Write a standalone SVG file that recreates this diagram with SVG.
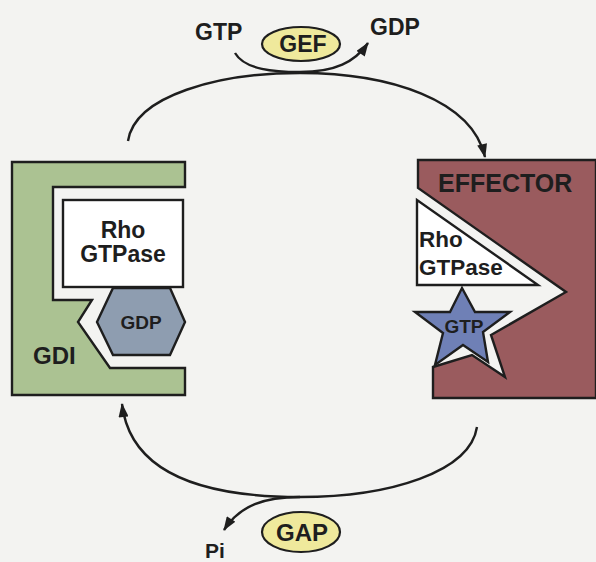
<svg xmlns="http://www.w3.org/2000/svg" width="596" height="562" viewBox="0 0 596 562">
<defs>
<style>
.t{font-family:"Liberation Sans",Arial,sans-serif;font-weight:bold;fill:#1e1e1e}
.ln{fill:none;stroke:#1e1e1e;stroke-width:2.4}
.sh{stroke:#1e1e1e;stroke-width:2.4;stroke-linejoin:miter}
</style>
<marker id="ah" viewBox="0 0 14 10" refX="13" refY="5" markerWidth="15" markerHeight="10" markerUnits="userSpaceOnUse" orient="auto">
<path d="M0,0 L14,5 L0,10 Z" fill="#1e1e1e"/>
</marker>
</defs>
<rect width="596" height="562" fill="#f3f3f1"/>
<g id="connectors">
<path class="ln" d="M128,141 C135,95 220,73 300,73 C390,73 472,100 485,157" marker-end="url(#ah)"/>
<path class="ln" d="M235,53 C245,70 275,72 300,72 C335,72 355,62 368,43" marker-end="url(#ah)"/>
<path class="ln" d="M477,427 C470,472 390,497 300,497 C200,497 130,472 122,404" marker-end="url(#ah)"/>
<path class="ln" d="M300,497 C265,497 240,505 224,530" marker-end="url(#ah)"/>
</g>
<g id="gef">
<ellipse cx="301" cy="44" rx="39" ry="17" fill="#efe99c" stroke="#1e1e1e" stroke-width="2.2"/>
<text class="t" x="303" y="52" font-size="23" text-anchor="middle">GEF</text>
</g>
<g id="gtp-top"><text class="t" x="195" y="40" font-size="23">GTP</text></g>
<g id="gdp-top"><text class="t" x="370" y="35" font-size="23">GDP</text></g>
<g id="gap">
<ellipse cx="301" cy="532" rx="39" ry="20" fill="#efe99c" stroke="#1e1e1e" stroke-width="2.2"/>
<text class="t" x="302" y="541" font-size="24" text-anchor="middle">GAP</text>
</g>
<g id="pi"><text class="t" x="205" y="558" font-size="21">Pi</text></g>
<g id="gdi">
<path class="sh" fill="#abc292" d="M12,162 H185 V187 H53 V300 H92 L78,322 L110,368 H185 V395 H12 Z"/>
<text class="t" x="33" y="364" font-size="24">GDI</text>
</g>
<g id="rho-gdi">
<rect class="sh" x="63" y="200" width="120" height="87" fill="#ffffff"/>
<text class="t" x="123" y="238" font-size="23" text-anchor="middle">Rho</text>
<text class="t" x="123" y="262" font-size="23" text-anchor="middle">GTPase</text>
</g>
<g id="gdp-hex">
<polygon class="sh" fill="#8e9db0" points="97,322 113,288 170,288 185,322 170,355 113,355"/>
<text class="t" x="141" y="329" font-size="19" text-anchor="middle">GDP</text>
</g>
<g id="effector">
<path class="sh" fill="#9a5b5e" d="M418,160 H596 V398 H433 V367 L472,355 L505,377 L491,335 L566,292 L418,188 Z"/>
<text class="t" x="438" y="192" font-size="25">EFFECTOR</text>
</g>
<g id="rho-eff">
<polygon class="sh" fill="#ffffff" points="417,200 417,285 538,285"/>
<text class="t" x="419" y="247" font-size="22.5">Rho</text>
<text class="t" x="419" y="275" font-size="22.5">GTPase</text>
</g>
<g id="gtp-star">
<polygon class="sh" fill="#6f80b6" points="462,288 475,312 510,312 483,332 488,362 463,345 435,365 443,333 415,312 450,312"/>
<text class="t" x="464" y="333" font-size="19" text-anchor="middle">GTP</text>
</g>
</svg>
